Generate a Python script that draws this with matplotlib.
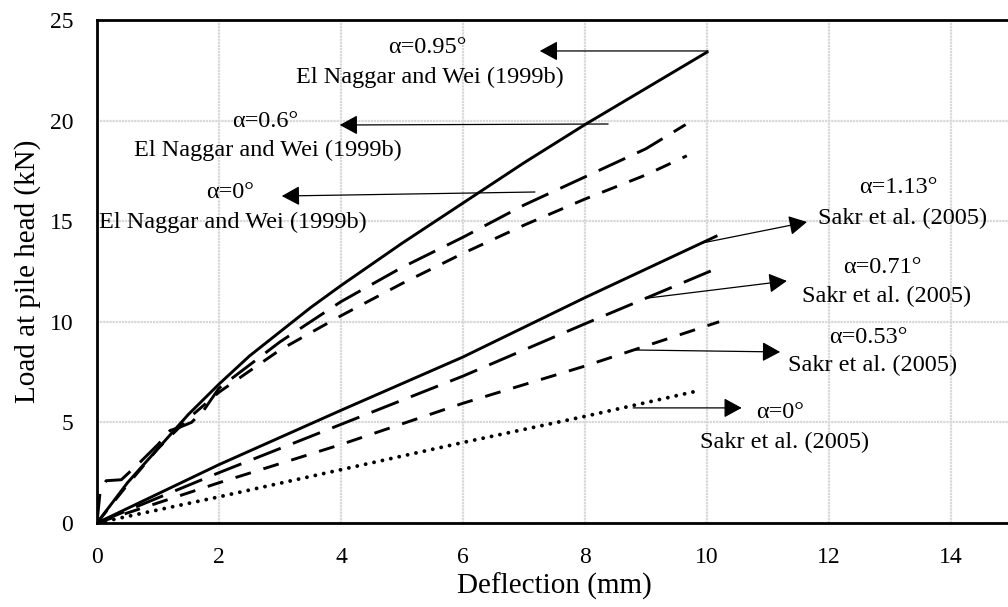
import matplotlib
matplotlib.use('Agg')
import matplotlib.pyplot as plt

plt.rcParams['font.family'] = ['Liberation Serif', 'DejaVu Serif']

# El Naggar and Wei (1999b)
en_095_x = [0, 0.25, 0.5, 1.0, 1.5, 2.0, 2.5, 3.0, 3.5, 4.0, 5.0, 6.0, 7.0, 8.0, 9.0, 10.0]
en_095_y = [0, 1.0, 2.0, 3.7, 5.4, 6.9, 8.3, 9.5, 10.7, 11.8, 13.9, 15.9, 17.9, 19.8, 21.6, 23.4]
en_06_x = [0, 0.05, 0.15, 0.4, 0.7, 1.0, 1.2, 1.35, 1.55, 1.75, 2.0, 3.0, 4.0, 5.0, 6.0, 7.0, 8.0, 9.0, 9.65]
en_06_y = [0, 1.5, 2.1, 2.15, 3.0, 3.9, 4.6, 4.75, 5.0, 5.6, 6.7, 9.0, 11.0, 12.7, 14.2, 15.8, 17.2, 18.6, 19.8]
en_0_x = [0, 0.5, 1.0, 1.5, 2.0, 3.0, 4.0, 5.0, 6.0, 7.0, 8.0, 9.0, 9.67]
en_0_y = [0, 1.9, 3.7, 5.2, 6.5, 8.6, 10.3, 11.9, 13.4, 14.8, 16.1, 17.3, 18.25]

# Sakr et al. (2005)
sk_113_x = [0, 2, 4, 6, 8, 10.15]
sk_113_y = [0, 2.9, 5.6, 8.25, 11.2, 14.25]
sk_071_x = [0, 2, 4, 6, 8, 10.2]
sk_071_y = [0, 2.5, 4.9, 7.3, 9.9, 12.7]
sk_053_x = [0, 2, 4, 6, 8, 10.2]
sk_053_y = [0, 2.0, 3.9, 5.95, 7.8, 10.0]
sk_0_x = [0, 2, 4, 6, 8, 9.9]
sk_0_y = [0, 1.3, 2.65, 4.0, 5.3, 6.6]

# annotations
angle_labels = ['α=0.95°', 'α=0.6°', 'α=0°', 'α=1.13°', 'α=0.71°', 'α=0.53°', 'α=0°']
source_labels = ['El Naggar and Wei (1999b)'] * 3 + ['Sakr et al. (2005)'] * 4
arrow_from = [(10.02, 23.46), (8.38, 19.83), (7.18, 16.45), (9.93, 13.92), (9.03, 11.18), (8.77, 8.6), (8.79, 5.72)]
arrow_to = [(7.26, 23.46), (3.98, 19.78), (3.03, 16.25), (11.64, 14.96), (11.31, 12.03), (11.2, 8.5), (10.57, 5.72)]
angle_pos = [(5.41, 23.61), (2.75, 19.93), (2.18, 16.45), (13.13, 16.65), (12.87, 12.72), (12.64, 9.24), (11.2, 5.47)]
source_pos = [(5.46, 22.17), (2.80, 18.54), (2.23, 14.96), (13.21, 15.16), (12.95, 11.28), (12.72, 7.85), (11.28, 3.98)]

SOLID = '-'
LONG = (0, (10, 4.5))
SHORT = (0, (5.5, 4.5))
DOT = (0, (0.01, 2.2))

fig = plt.figure(figsize=(10.08, 6.07), dpi=100)
ax = fig.add_axes([0.0962, 0.1384, 0.9077, 0.8287])

ax.plot(en_095_x, en_095_y, color='black', lw=2.1, linestyle=SOLID)
ax.plot(en_06_x, en_06_y, color='black', lw=2.1, linestyle=LONG)
ax.plot(en_0_x, en_0_y, color='black', lw=2.1, linestyle=SHORT)
ax.plot(sk_113_x, sk_113_y, color='black', lw=2.1, linestyle=SOLID)
ax.plot(sk_071_x, sk_071_y, color='black', lw=2.1, linestyle=LONG)
ax.plot(sk_053_x, sk_053_y, color='black', lw=2.1, linestyle=SHORT)
ax.plot(sk_0_x, sk_0_y, color='black', lw=2.8, linestyle=DOT, dash_capstyle='round')

for i in range(len(angle_labels)):
    ax.annotate('', xy=arrow_to[i], xytext=arrow_from[i],
                arrowprops=dict(arrowstyle='-|>,head_length=0.55,head_width=0.3',
                                color='black', lw=0.9, mutation_scale=20,
                                shrinkA=0, shrinkB=0))
    ax.text(angle_pos[i][0], angle_pos[i][1], angle_labels[i], fontsize=17.5,
            ha='center', va='center')
    ax.text(source_pos[i][0], source_pos[i][1], source_labels[i], fontsize=17.5,
            ha='center', va='center')

ax.set_xlim(0, 15)
ax.set_ylim(0, 25)
ax.set_xticks(range(0, 15, 2))
ax.set_yticks(range(0, 26, 5))
ax.tick_params(length=0, labelsize=17)
ax.tick_params(axis='x', pad=17)
ax.tick_params(axis='y', pad=17)
ax.grid(True, color='#d8d8d8', lw=1.6, linestyle=(0, (1, 0.4)))
ax.set_axisbelow(True)
for side in ['left', 'bottom', 'top']:
    ax.spines[side].set_linewidth(2)
ax.spines['right'].set_visible(False)

ax.set_xlabel('Deflection (mm)', fontsize=21, labelpad=4)
ax.set_ylabel('Load at pile head (kN)', fontsize=21, labelpad=6)

fig.savefig('out.png', dpi=100)
